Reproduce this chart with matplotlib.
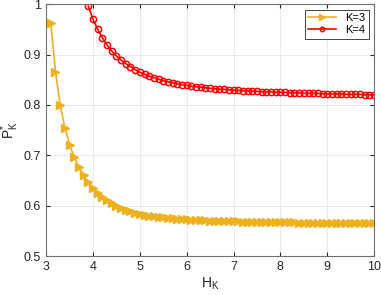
import numpy as np
import matplotlib
matplotlib.use("Agg")
from matplotlib import pyplot as plt

plt.rcParams['font.family'] = ['Liberation Sans', 'DejaVu Sans']

# K=3 curve, H_K = 3.1 ... 10.0 step 0.1
h3 = np.round(np.arange(3.1, 10.01, 0.1), 1)
p3 = [0.963, 0.866, 0.800, 0.755, 0.721, 0.696, 0.676, 0.660, 0.646, 0.635,
      0.626, 0.618, 0.611, 0.605, 0.600, 0.596, 0.592, 0.589, 0.586, 0.584,
      0.582, 0.580, 0.579, 0.578, 0.577, 0.576, 0.575, 0.574, 0.573, 0.573,
      0.572, 0.572, 0.571, 0.571, 0.570, 0.570, 0.570, 0.569, 0.569, 0.569,
      0.569, 0.568, 0.568, 0.568, 0.568, 0.568, 0.567, 0.567, 0.567, 0.567,
      0.567, 0.567, 0.567, 0.566, 0.566, 0.566, 0.566, 0.566, 0.566, 0.566,
      0.566, 0.566, 0.566, 0.566, 0.565, 0.565, 0.565, 0.565, 0.565, 0.565]

# K=4 curve, H_K = 3.9 ... 10.0 step 0.1
h4 = np.round(np.arange(3.9, 10.01, 0.1), 1)
p4 = [0.996, 0.970, 0.950, 0.933, 0.919, 0.907, 0.897, 0.889, 0.882, 0.876,
      0.870, 0.865, 0.861, 0.857, 0.854, 0.851, 0.848, 0.846, 0.844, 0.842,
      0.840, 0.839, 0.837, 0.836, 0.835, 0.834, 0.833, 0.832, 0.831, 0.831,
      0.830, 0.829, 0.829, 0.828, 0.828, 0.827, 0.827, 0.826, 0.826, 0.826,
      0.825, 0.825, 0.825, 0.824, 0.824, 0.824, 0.823, 0.823, 0.823, 0.823,
      0.822, 0.822, 0.822, 0.822, 0.822, 0.821, 0.821, 0.821, 0.821, 0.820,
      0.820, 0.820]

fig = plt.figure(figsize=(3.81, 2.95), dpi=100)
ax = fig.add_axes([0.121, 0.132, 0.861, 0.854])

ax.plot(h3, p3, color='#EDB120', marker='>', markersize=5.8, lw=1.2, label='K=3')
ax.plot(h4, p4, color='#FF0000', marker='o', markersize=4.5, mfc='none', mew=1.1, lw=1.2, label='K=4')

ax.set_xlim(3, 10)
ax.set_ylim(0.5, 1)
ax.set_xticks(range(3, 11))
ax.set_yticks([0.5, 0.6, 0.7, 0.8, 0.9, 1])
ax.set_yticklabels(['0.5', '0.6', '0.7', '0.8', '0.9', '1'])
ax.grid(True, color='#e6e6e6', lw=0.6)
ax.set_axisbelow(True)
ax.tick_params(direction='in', top=True, right=True, labelsize=9, colors='#262626', length=3)
for s in ax.spines.values():
    s.set_color('#707070')
    s.set_linewidth(0.8)
ax.set_xlabel('H$_\\mathregular{K}$', fontsize=10, color='#262626', labelpad=2)
ax.set_ylabel('P$^\\mathregular{*}_\\mathregular{K}$', fontsize=10, color='#262626', labelpad=2)
leg = ax.legend(loc='upper right', fontsize=8, fancybox=False, framealpha=1, markerscale=0.7,
                edgecolor='#262626', handlelength=2.5, borderpad=0.3, labelspacing=0.2)
leg.get_frame().set_linewidth(0.6)

fig.savefig('out.png', dpi=100)
